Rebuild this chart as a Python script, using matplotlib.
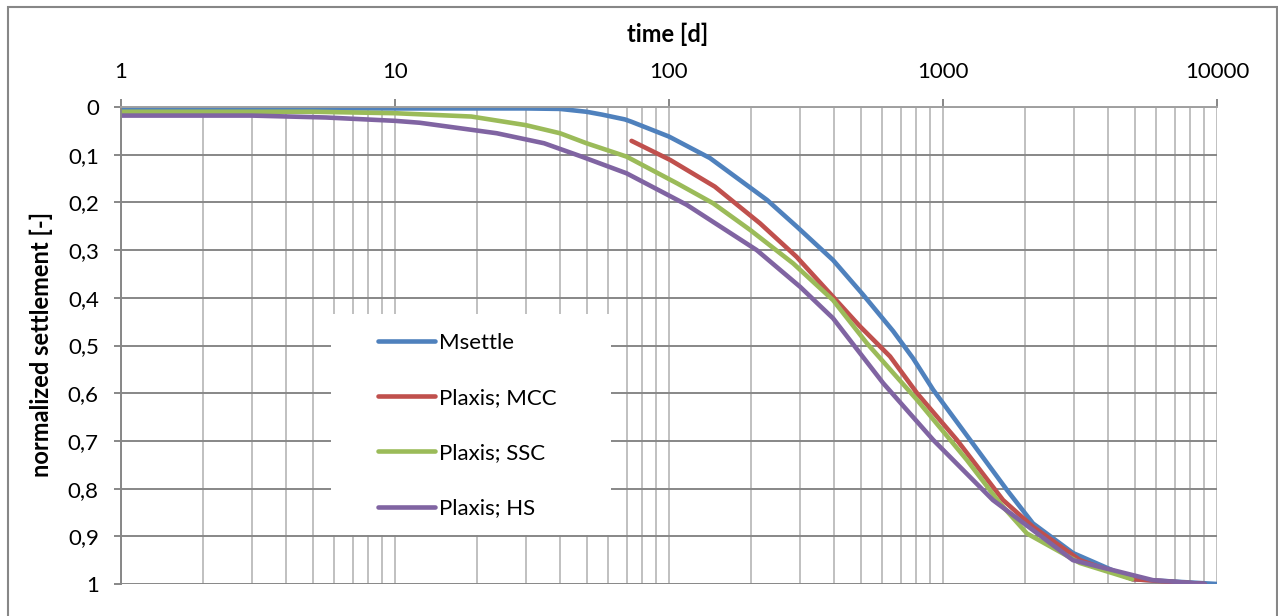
import numpy as np
import matplotlib
matplotlib.use("Agg")
import matplotlib.pyplot as plt
from matplotlib.patches import Rectangle
from matplotlib.ticker import NullFormatter, LogLocator

plt.rcParams['font.family'] = ['Lato', 'DejaVu Sans']

# data
t_msettle = [1, 10, 30, 40, 50, 57, 69, 73, 100, 141, 228, 293, 397, 510, 658, 778, 921,
             1256, 1712, 2130, 2980, 4935, 10000]
s_msettle = [0.003, 0.003, 0.003, 0.004, 0.010, 0.016, 0.026, 0.031, 0.062, 0.107, 0.195,
             0.251, 0.321, 0.393, 0.470, 0.527, 0.593, 0.698, 0.803, 0.873, 0.935, 0.990, 1.0]

t_mcc = [73, 101, 147, 215, 292, 387, 498, 641, 804, 1124, 1656, 2130, 3162, 4935, 9000]
s_mcc = [0.071, 0.111, 0.167, 0.244, 0.314, 0.391, 0.460, 0.523, 0.600, 0.698, 0.824,
         0.880, 0.950, 0.990, 1.0]

t_ssc = [1, 5, 10, 19, 30, 40, 50, 70, 107, 145, 198, 284, 397, 527, 804, 1222, 1615,
         2024, 3162, 4900]
s_ssc = [0.010, 0.010, 0.013, 0.020, 0.038, 0.055, 0.076, 0.104, 0.160, 0.202, 0.258,
         0.328, 0.405, 0.495, 0.614, 0.740, 0.831, 0.894, 0.956, 0.990]

t_hs = [1, 3, 5.6, 10, 12.3, 23.5, 35, 48, 70, 116, 209, 301, 397, 605, 921, 1521, 2980,
        5840, 9000]
s_hs = [0.018, 0.018, 0.022, 0.029, 0.033, 0.055, 0.076, 0.104, 0.139, 0.205, 0.300,
        0.377, 0.443, 0.579, 0.698, 0.824, 0.950, 0.992, 1.0]

x_ticks = [1, 10, 100, 1000, 10000]
y_ticks = [0, 0.1, 0.2, 0.3, 0.4, 0.5, 0.6, 0.7, 0.8, 0.9, 1]

W, H = 1278, 616
fig = plt.figure(figsize=(W / 100, H / 100), dpi=100)
ax = fig.add_axes([121 / W, 32 / H, 1096 / W, 477 / H])

lw = 3.3
ax.plot(t_msettle, s_msettle, color='#4F81BD', lw=lw, solid_capstyle='round', label='Msettle')
ax.plot(t_mcc, s_mcc, color='#C0504D', lw=lw, solid_capstyle='round', label='Plaxis; MCC')
ax.plot(t_ssc, s_ssc, color='#9BBB59', lw=lw, solid_capstyle='round', label='Plaxis; SSC')
ax.plot(t_hs, s_hs, color='#8064A2', lw=lw, solid_capstyle='round', label='Plaxis; HS')

ax.set_xscale('log')
ax.set_xlim(1, 10000)
ax.set_ylim(1, 0)
ax.xaxis.tick_top()
ax.set_xticks(x_ticks)
ax.set_xticklabels([str(v) for v in x_ticks])
ax.xaxis.set_minor_locator(LogLocator(base=10, subs=np.arange(2, 10)))
ax.xaxis.set_minor_formatter(NullFormatter())
ax.set_yticks(y_ticks)
ax.set_yticklabels([('%g' % v).replace('.', ',') for v in y_ticks])

ax.set_axisbelow(True)
ax.grid(which='both', axis='x', color='#C0C0C0', lw=1.4)
ax.grid(which='major', axis='y', color='#878787', lw=1.4)

for side in ['right', 'bottom']:
    ax.spines[side].set_visible(False)
ax.spines['left'].set_color('#878787')
ax.spines['left'].set_linewidth(1.4)
ax.spines['top'].set_color('#A0A0A0')
ax.spines['top'].set_linewidth(1.4)

ax.tick_params(axis='x', which='major', length=6, width=1.4, color='#878787',
               labelsize=16, pad=12)
ax.tick_params(axis='x', which='minor', length=0)
ax.tick_params(axis='y', length=5, width=1.4, color='#878787', labelsize=16, pad=11)

fig.text(668 / W, 1 - 34 / H, 'time [d]', ha='center', va='center',
         fontsize=17, fontweight='bold')
fig.text(41 / W, 1 - 344 / H, 'normalized settlement [-]', ha='center', va='center',
         rotation=90, fontsize=17, fontweight='bold')

# legend area (white box covering the grid)
ax.add_patch(Rectangle((331 / W, 1 - 535 / H), 280 / W, 221 / H, transform=fig.transFigure,
                       facecolor='white', edgecolor='none', zorder=3))
leg = ax.legend(loc='upper left', bbox_to_anchor=(378 / W, 1 - 333 / H),
                bbox_transform=fig.transFigure, frameon=False, fontsize=16,
                handlelength=2.55, handletextpad=0.2, labelspacing=1.58,
                borderpad=0, borderaxespad=0)
leg.set_zorder(4)

# outer chart border
fig.patches.append(Rectangle((8 / W, -0.02), 1269 / W, (H - 7) / H + 0.02,
                             transform=fig.transFigure, fill=False,
                             edgecolor='#878787', lw=1.5))

fig.savefig('out.png', dpi=100)
